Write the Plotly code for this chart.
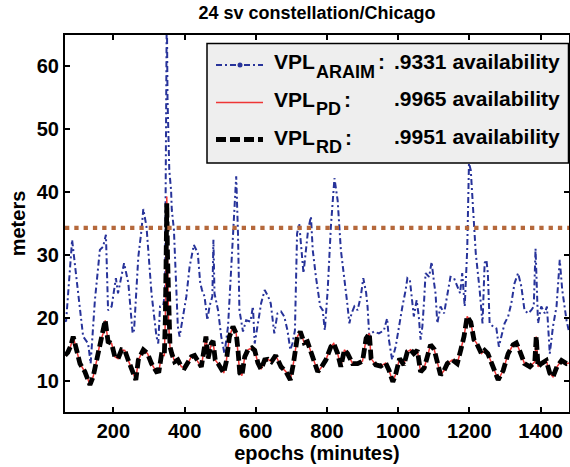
import plotly.graph_objects as go

# ---------------- data ----------------
title_text = "24 sv constellation/Chicago"
x_label = "epochs (minutes)"
y_label = "meters"
x_ticks = [200, 400, 600, 800, 1000, 1200, 1400]
y_ticks = [10, 20, 30, 40, 50, 60]
x_range = [64, 1480]
y_range = [5, 65]

epochs_araim = [64, 67, 84, 92, 101, 115, 129, 136, 148, 162, 171, 179, 185, 195, 204, 207, 213,
                230, 242, 254, 258, 270, 279, 284, 293, 307, 321, 326, 331, 340, 345, 348, 350,
                352, 357, 362, 364, 370, 376, 381, 386, 395, 405, 414, 426, 437, 444, 449, 456,
                464, 470, 478, 481, 484, 494, 503, 512, 522, 531, 540, 545, 550, 554, 564, 573,
                585, 592, 597, 606, 615, 625, 634, 642, 652, 661, 671, 680, 689, 697, 703, 710,
                716, 722, 727, 734, 741, 747, 755, 760, 769, 774, 781, 788, 794, 802, 811, 821,
                830, 839, 849, 856, 863, 869, 877, 886, 895, 902, 910, 914, 919, 923, 932, 946,
                960, 969, 974, 983, 993, 1002, 1012, 1021, 1026, 1033, 1040, 1044, 1052, 1058,
                1063, 1068, 1073, 1077, 1087, 1094, 1101, 1105, 1110, 1119, 1129, 1138, 1147,
                1157, 1166, 1174, 1180, 1187, 1194, 1199, 1204, 1211, 1218, 1229, 1237, 1243,
                1248, 1252, 1257, 1267, 1276, 1283, 1290, 1299, 1309, 1318, 1327, 1337, 1346,
                1355, 1365, 1374, 1381, 1386, 1393, 1402, 1412, 1418, 1426, 1435, 1445, 1454,
                1461, 1473, 1480]
vpl_araim = [19.6, 19.4, 32.4, 28.0, 23.9, 17.0, 15.9, 12.7, 22.8, 30.8, 31.3, 33.2, 21.2, 21.8,
             25.5, 26.3, 23.9, 28.7, 25.5, 17.5, 18.0, 29.7, 34.0, 37.3, 34.5, 23.9, 17.0, 15.9,
             21.8, 22.0, 23.9, 45.0, 70.0, 55.0, 43.5, 40.3, 37.2, 34.0, 25.5, 18.6, 17.0, 20.2,
             23.4, 28.1, 31.6, 30.3, 25.5, 24.4, 23.4, 19.6, 21.8, 23.4, 32.4, 23.9, 21.2, 17.0,
             14.3, 18.6, 28.1, 37.2, 42.5, 33.4, 21.2, 17.8, 19.6, 19.4, 21.8, 15.9, 19.1, 22.3,
             24.4, 23.5, 22.3, 17.5, 20.7, 21.0, 20.2, 18.0, 14.9, 15.9, 18.0, 33.4, 35.0, 31.8,
             27.1, 30.8, 34.0, 36.1, 30.8, 26.5, 24.4, 21.8, 21.2, 18.0, 24.4, 34.5, 42.2, 38.7,
             30.8, 26.5, 22.8, 19.1, 20.7, 21.8, 21.2, 23.4, 26.3, 24.0, 21.8, 17.0, 17.5, 17.8,
             17.5, 18.0, 19.9, 16.5, 13.3, 15.4, 18.6, 21.8, 24.4, 26.3, 26.0, 22.3, 20.2, 22.8,
             20.2, 16.5, 18.6, 22.8, 27.1, 26.5, 28.9, 25.5, 23.9, 19.1, 21.8, 20.7, 23.9, 26.5,
             26.3, 25.0, 23.9, 27.1, 21.8, 30.8, 44.6, 43.5, 36.1, 30.3, 24.4, 19.1, 28.7, 29.2,
             27.1, 19.1, 18.6, 18.3, 15.4, 17.0, 19.1, 20.2, 22.3, 25.5, 27.1, 25.0, 21.2, 20.7,
             21.2, 21.8, 31.0, 19.1, 21.8, 20.7, 21.8, 14.3, 18.6, 21.8, 29.2, 24.4, 19.6, 17.8]

epochs_pd_rd = [64, 72, 80, 87, 96, 106, 120, 127, 134, 143, 153, 162, 171, 177, 185, 195, 204,
                213, 223, 232, 242, 256, 263, 270, 284, 296, 307, 321, 328, 335, 343, 346, 348,
                350, 352, 355, 359, 364, 372, 381, 391, 400, 409, 419, 428, 437, 447, 456, 460,
                466, 475, 480, 486, 494, 503, 510, 517, 526, 536, 545, 550, 555, 561, 569, 578,
                589, 597, 606, 615, 625, 634, 644, 656, 671, 685, 697, 706, 717, 725, 736, 745,
                760, 774, 783, 797, 811, 819, 830, 839, 849, 858, 872, 886, 900, 910, 919, 924,
                937, 951, 965, 974, 985, 993, 1004, 1016, 1026, 1035, 1044, 1054, 1063, 1073,
                1082, 1091, 1101, 1110, 1119, 1129, 1138, 1152, 1166, 1176, 1185, 1194, 1204,
                1213, 1220, 1234, 1243, 1252, 1267, 1281, 1295, 1309, 1323, 1332, 1341, 1355,
                1370, 1384, 1388, 1393, 1402, 1416, 1426, 1435, 1446, 1459, 1473, 1480]
vpl_rd = [14.0, 14.5, 15.5, 17.0, 15.0, 12.7, 11.4, 10.5, 9.3, 10.6, 13.2, 15.9, 17.5, 19.6, 16.2,
          15.9, 13.8, 13.5, 14.9, 14.8, 13.2, 11.2, 10.1, 13.3, 14.9, 14.3, 12.7, 11.4, 11.5, 14.1,
          14.0, 20.0, 32.0, 38.2, 30.0, 19.0, 15.4, 14.3, 13.0, 13.3, 12.2, 12.0, 12.7, 13.8, 14.0,
          13.0, 12.2, 15.4, 17.0, 13.5, 15.9, 16.3, 13.3, 12.7, 12.0, 11.2, 13.0, 17.0, 18.6, 17.5,
          14.9, 11.2, 10.8, 13.8, 14.9, 15.2, 14.8, 12.8, 11.8, 13.3, 13.4, 13.0, 14.0, 12.2, 11.4,
          10.1, 12.8, 17.0, 17.8, 16.0, 16.2, 13.8, 11.4, 12.0, 13.3, 15.4, 15.9, 14.3, 12.2, 14.9,
          14.3, 12.7, 12.7, 13.1, 16.7, 17.5, 13.5, 12.5, 12.3, 12.8, 11.7, 9.8, 11.0, 13.5, 12.5,
          14.6, 14.9, 14.3, 14.8, 11.4, 12.0, 13.8, 15.7, 15.0, 13.0, 10.9, 11.6, 12.7, 13.3, 12.7,
          14.9, 17.0, 20.2, 19.3, 16.5, 16.0, 14.3, 14.8, 14.3, 12.2, 10.1, 11.6, 14.3, 15.7, 16.0,
          14.8, 12.7, 12.2, 13.0, 17.0, 12.2, 12.7, 13.2, 11.2, 10.6, 12.2, 13.2, 12.7, 12.8]
vpl_pd = [14.0, 14.5, 15.5, 17.0, 15.0, 12.7, 11.4, 10.5, 9.3, 10.6, 13.2, 15.9, 17.5, 19.6, 16.2,
          15.9, 13.8, 13.5, 14.9, 14.8, 13.2, 11.2, 10.1, 13.3, 14.9, 14.3, 12.7, 11.4, 11.5, 14.1,
          14.0, 20.0, 32.0, 39.3, 30.0, 19.0, 15.4, 14.3, 13.0, 13.3, 12.2, 12.0, 12.7, 13.8, 14.0,
          13.0, 12.2, 15.4, 17.0, 13.5, 15.9, 16.3, 13.3, 12.7, 12.0, 11.2, 13.0, 17.0, 18.6, 17.5,
          14.9, 11.2, 10.8, 13.8, 14.9, 15.2, 14.8, 12.8, 11.8, 13.3, 13.4, 13.0, 14.0, 12.2, 11.4,
          10.1, 12.8, 17.0, 17.8, 16.0, 16.2, 13.8, 11.4, 12.0, 13.3, 15.4, 15.9, 14.3, 12.2, 14.9,
          14.3, 12.7, 12.7, 13.1, 16.7, 17.5, 13.5, 12.5, 12.3, 12.8, 11.7, 9.8, 11.0, 13.5, 12.5,
          14.6, 14.9, 14.3, 14.8, 11.4, 12.0, 13.8, 15.7, 15.0, 13.0, 10.9, 11.6, 12.7, 13.3, 12.7,
          14.9, 17.0, 20.2, 19.3, 16.5, 16.0, 14.3, 14.8, 14.3, 12.2, 10.1, 11.6, 14.3, 15.7, 16.0,
          14.8, 12.7, 12.2, 13.0, 17.0, 12.2, 12.7, 13.2, 11.2, 10.6, 12.2, 13.2, 12.7, 12.8]
val_threshold = 34.3

legend_subs = ["ARAIM", "PD", "RD"]
legend_avail = [".9331 availability", ".9965 availability", ".9951 availability"]

# ---------------- styles ----------------
W, H = 570, 467
L, R, T, B = 65, 1, 35, 55
FONT = "Liberation Sans, Arial, Helvetica, sans-serif"
BLUE = "#27339a"
RED = "#ee3535"
BLACK = "#000000"
BROWN = "#b5683b"
BLUE_DASH = "6px,3px,2px,3px"
BLACK_DASH = "10px,4px"


def xp(px):
    return (px - L) / (W - L - R)


def yp(py):
    return (H - B - py) / (H - B - T)


fig = go.Figure()
fig.add_trace(go.Scatter(x=epochs_araim, y=vpl_araim, mode="lines", showlegend=False,
                         line=dict(color=BLUE, width=2, dash=BLUE_DASH)))
fig.add_trace(go.Scatter(x=epochs_pd_rd, y=vpl_pd, mode="lines", showlegend=False,
                         line=dict(color=RED, width=1.5)))
fig.add_trace(go.Scatter(x=epochs_pd_rd, y=vpl_rd, mode="lines", showlegend=False,
                         line=dict(color=BLACK, width=4.8, dash=BLACK_DASH)))

# ---------------- threshold + legend (drawn) ----------------
shapes = [dict(type="line", xref="paper", yref="y", x0=0, x1=1,
               y0=val_threshold, y1=val_threshold,
               line=dict(color=BROWN, width=4.3, dash="4.3px,5px"), layer="above"),
          dict(type="rect", xref="paper", yref="paper", x0=xp(207), x1=xp(568.5),
               y0=yp(163), y1=yp(43.5), fillcolor="#eeeeee",
               line=dict(color="black", width=1.5), layer="above")]
annotations = []
sample_py = [65, 102.5, 139.5]
text_py = [62, 99.5, 137]
colon_px = [376, 342, 343]
sample_styles = [dict(color=BLUE, width=2, dash=BLUE_DASH),
                 dict(color=RED, width=1.5, dash="solid"),
                 dict(color=BLACK, width=4.8, dash=BLACK_DASH)]
for i in range(3):
    shapes.append(dict(type="line", xref="paper", yref="paper", x0=xp(216), x1=xp(263),
                       y0=yp(sample_py[i]), y1=yp(sample_py[i]), line=sample_styles[i],
                       layer="above"))
    annotations.append(dict(text="<b>VPL</b>", x=xp(272), y=yp(text_py[i]), xref="paper",
                            yref="paper", xanchor="left", yanchor="middle", showarrow=False,
                            font=dict(family=FONT, size=21, color="black")))
    annotations.append(dict(text="<b>%s</b>" % legend_subs[i], x=xp(314), y=yp(text_py[i] + 10),
                            xref="paper", yref="paper", xanchor="left", yanchor="middle",
                            showarrow=False, font=dict(family=FONT, size=18, color="black")))
    annotations.append(dict(text="<b>:</b>", x=xp(colon_px[i]), y=yp(text_py[i]), xref="paper",
                            yref="paper", xanchor="left", yanchor="middle", showarrow=False,
                            font=dict(family=FONT, size=21, color="black")))
    annotations.append(dict(text="<b>%s</b>" % legend_avail[i], x=xp(392), y=yp(text_py[i] - 1),
                            xref="paper", yref="paper", xanchor="left", yanchor="middle",
                            showarrow=False, font=dict(family=FONT, size=21, color="black")))
# blue legend marker dot
shapes.append(dict(type="circle", xref="paper", yref="paper", x0=xp(237.5), x1=xp(242.5),
                   y0=yp(sample_py[0] + 2.5), y1=yp(sample_py[0] - 2.5), fillcolor=BLUE,
                   line=dict(color=BLUE, width=0), layer="above"))

axis_common = dict(showline=True, linecolor="black", linewidth=2, mirror="ticks",
                   ticks="inside", ticklen=5, tickwidth=1.5, tickcolor="black",
                   showgrid=False, zeroline=False,
                   tickfont=dict(family=FONT, size=20, color="black", weight="bold"))

fig.update_layout(
    width=W, height=H,
    margin=dict(l=L, r=R, t=T, b=B, pad=0),
    paper_bgcolor="white", plot_bgcolor="white",
    title=dict(text="<b>%s</b>" % title_text, x=xp((L + W - R) / 2), xref="paper",
               y=1 - 13 / H, yref="container", xanchor="center", yanchor="middle",
               font=dict(family=FONT, size=18, color="black")),
    xaxis=dict(range=x_range, tickvals=x_ticks, ticktext=[str(v) for v in x_ticks],
               title=dict(text="<b>%s</b>" % x_label, standoff=0,
                          font=dict(family=FONT, size=20, color="black")),
               automargin=False, **axis_common),
    yaxis=dict(range=y_range, tickvals=y_ticks, ticktext=[str(v) for v in y_ticks],
               title=dict(text="<b>%s</b>" % y_label, standoff=6,
                          font=dict(family=FONT, size=20, color="black")),
               automargin=False, **axis_common),
    shapes=shapes,
    annotations=annotations,
    showlegend=False,
)

fig.write_html("out.html", config={"displayModeBar": False},
               post_script="document.body.style.margin='0px';document.body.style.padding='0px';")
